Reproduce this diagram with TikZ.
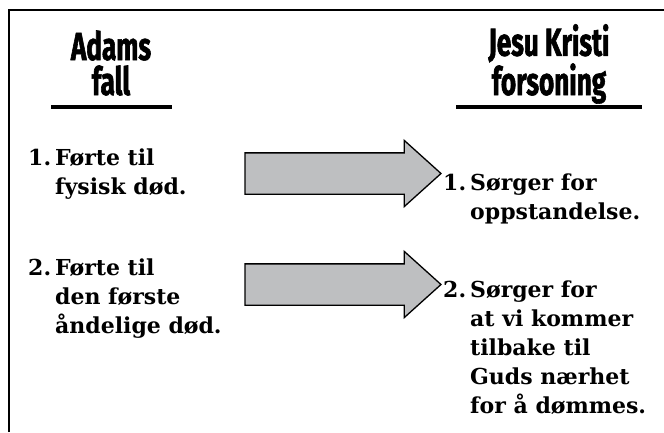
\documentclass[tikz,border=0pt]{standalone}
\usepackage{fontspec}
\usepackage{xcolor}
\usetikzlibrary{shapes.arrows}
\newfontfamily\headfont{Fira Sans}[FakeStretch=0.67,FakeBold=1.5]
\newfontfamily\itemfont{DejaVu Serif}
\definecolor{arrowgray}{HTML}{BEBFC1}
\newcommand{\numitem}[3]{\begin{tabular}[t]{@{}l@{}l@{}}\makebox[27pt][l]{#1}&#2\\#3\end{tabular}}
\tikzset{
  head/.style={font=\headfont\bfseries\fontsize{39}{35}\selectfont, align=center, inner sep=0pt, anchor=base},
  item/.style={font=\itemfont\bfseries\fontsize{22}{29}\selectfont, inner sep=0pt, anchor=base west},
  rule/.style={line width=4.5pt},
  frame/.style={line width=1.4pt},
  bigarrow/.style={single arrow, draw=black, fill=arrowgray, line width=1.3pt, minimum height=196pt, inner xsep=0pt, inner ysep=20pt, outer sep=0pt, single arrow head extend=12.5pt, single arrow tip angle=84, anchor=tail}
}

\begin{document}
\begin{tikzpicture}[x=1pt, y=-1pt]
  \useasboundingbox (0,0) rectangle (664,432);
  \draw[frame] (9,432) |- (664,10);
  % headings
  \node[head] (adam) at (111,95) {Adams\\fall};
  \node[head] (jesus) at (549,95) {Jesu Kristi\\forsoning};
  \draw[rule] (51,107) -- (172,107);
  \draw[rule] (456,107) -- (642,107);
  % left column
  \node[item] (fall1) at (28,165) {\numitem{1.}{Førte til}{&fysisk død.}};
  \node[item] (fall2) at (28,275) {\numitem{2.}{Førte til}{&den første\\&åndelige død.}};
  % right column
  \node[item] (atone1) at (443,190) {\numitem{1.}{Sørger for}{&oppstandelse.}};
  \node[item] (atone2) at (443,297) {\numitem{2.}{Sørger for}{&at vi kommer\\&tilbake til\\&Guds nærhet\\&for å dømmes.}};
  % arrows
  \node[bigarrow] (arrow1) at (245,173.5) {};
  \node[bigarrow] (arrow2) at (245,284.5) {};
\end{tikzpicture}
\end{document}
